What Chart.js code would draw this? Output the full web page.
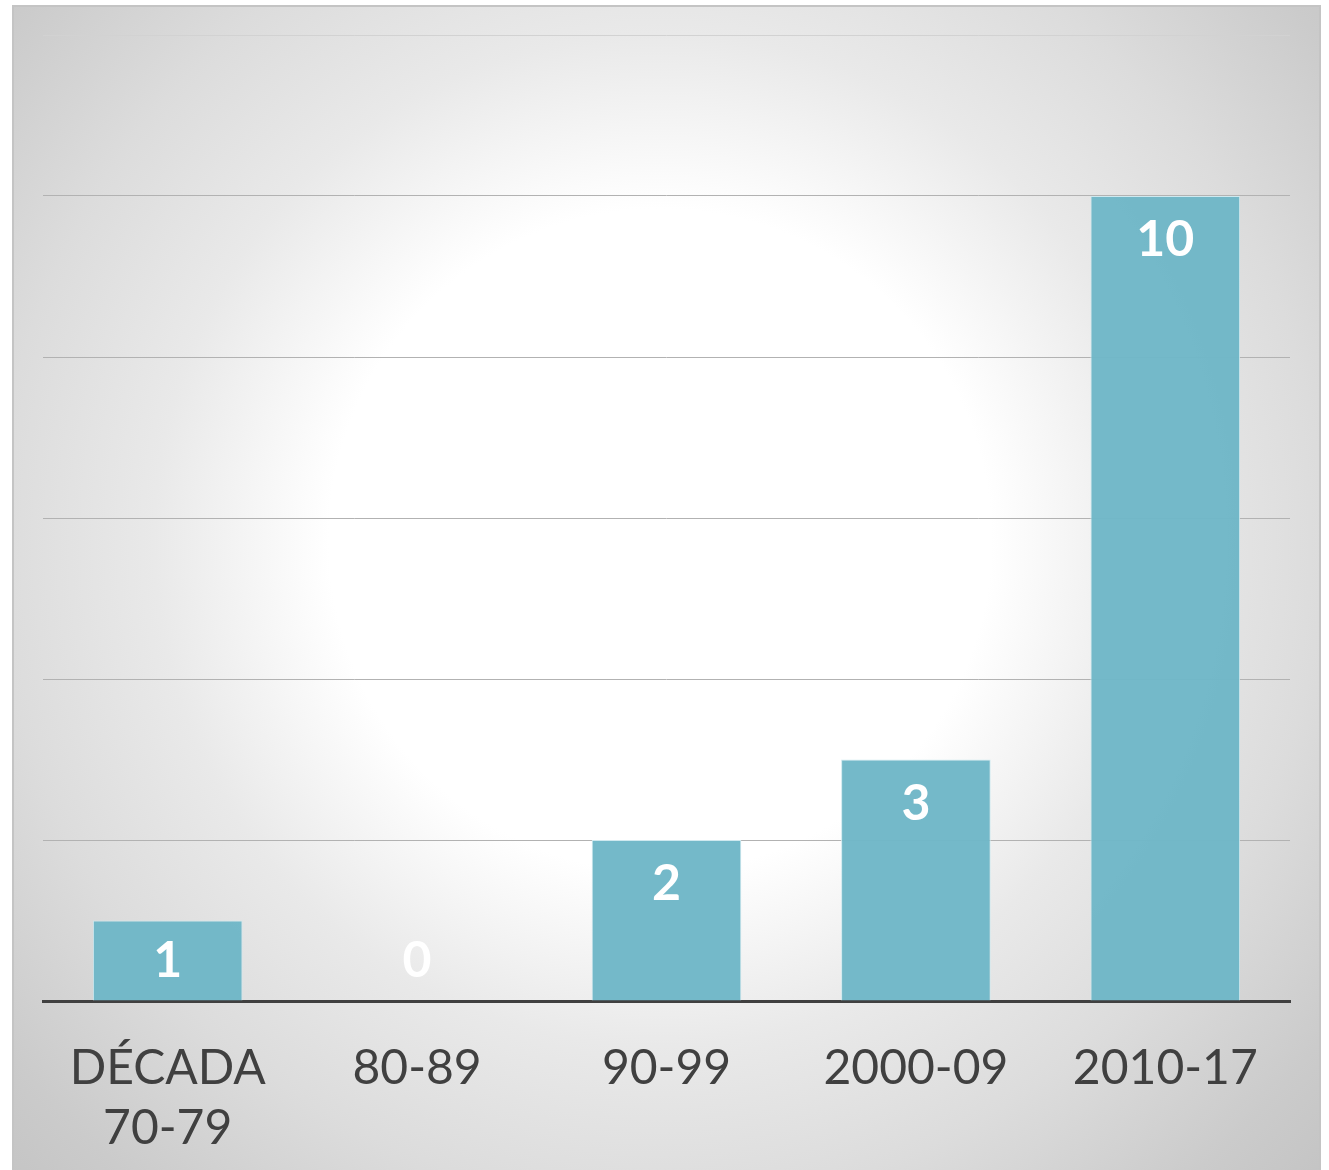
<!DOCTYPE html>
<html>
<head>
<meta charset="utf-8">
<script src="https://cdn.jsdelivr.net/npm/chart.js@4/dist/chart.umd.min.js"></script>
<style>
html,body{margin:0;padding:0;background:#fff;}
#wrap{position:absolute;left:0;top:0;width:1329px;height:1170px;}
</style>
</head>
<body>
<div id="wrap"><canvas id="c" width="1329" height="1170"></canvas></div>
<script>
const categories = [['DÉCADA','70-79'], '80-89', '90-99', '2000-09', '2010-17'];
const values = [1, 0, 2, 3, 10];
const valueLabels = ['1', '0', '2', '3', '10'];

const bgPlugin = {
  id: 'bg',
  beforeDraw(chart) {
    const ctx = chart.ctx;
    ctx.save();
    ctx.fillStyle = '#ffffff';
    ctx.fillRect(0, 0, chart.width, chart.height);
    const g = ctx.createRadialGradient(660, 540, 0, 660, 540, 920);
    g.addColorStop(0, '#ffffff');
    g.addColorStop(0.36, '#ffffff');
    g.addColorStop(0.55, '#e9e9e9');
    g.addColorStop(0.72, '#dcdcdc');
    g.addColorStop(0.9, '#cbcbcb');
    g.addColorStop(1, '#c4c4c4');
    ctx.fillStyle = g;
    ctx.fillRect(12, 5, 1308, 1170);
    ctx.strokeStyle = '#c4c4c4';
    ctx.lineWidth = 2;
    ctx.beginPath();
    ctx.moveTo(13, 1170); ctx.lineTo(13, 6); ctx.lineTo(1320, 6); ctx.lineTo(1320, 1170);
    ctx.stroke();
    ctx.restore();
  }
};

const labelPlugin = {
  id: 'vlabels',
  afterDatasetsDraw(chart) {
    const ctx = chart.ctx;
    const meta = chart.getDatasetMeta(0);
    const base = chart.scales.y.getPixelForValue(0);
    ctx.save();
    ctx.fillStyle = '#ffffff';
    ctx.font = 'bold 50px Lato, "Open Sans", sans-serif';
    ctx.textAlign = 'center';
    ctx.textBaseline = 'middle';
    meta.data.forEach((bar, i) => {
      let y = Math.min(bar.y + 44, base - 40);
      ctx.fillText(valueLabels[i], bar.x, y);
    });
    ctx.restore();
  }
};

new Chart(document.getElementById('c'), {
  type: 'bar',
  data: {
    labels: categories,
    datasets: [{
      data: values,
      backgroundColor: 'rgba(112,183,199,0.97)',
      borderColor: '#cfe9ef',
      borderWidth: 1,
      barPercentage: 0.6,
      categoryPercentage: 1.0
    }]
  },
  options: {
    responsive: false,
    animation: false,
    layout: { padding: { left: 43, right: 39, top: 35, bottom: 0 } },
    plugins: { legend: { display: false }, tooltip: { enabled: false } },
    scales: {
      x: {
        grid: { display: false, drawTicks: false },
        border: { display: true, color: '#404040', width: 3 },
        ticks: {
          color: '#404040',
          font: { family: 'Lato, "Open Sans", sans-serif', size: 48, lineHeight: 1.25 },
          padding: 38,
          maxRotation: 0,
          autoSkip: false
        },
        afterFit(s) { s.height = 169; }
      },
      y: {
        min: 0, max: 12,
        ticks: { display: false, stepSize: 2 },
        grid: {
          color: (c) => (c.tick && c.tick.value === 12) ? '#d2d2d2' : '#b2b2b2',
          lineWidth: 1, drawTicks: false
        },
        border: { display: false },
        afterFit(s) { s.width = 0; }
      }
    }
  },
  plugins: [bgPlugin, labelPlugin]
});
</script>
</body>
</html>
